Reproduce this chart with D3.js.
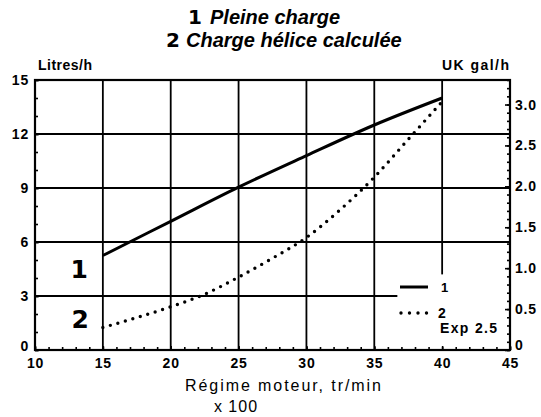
<!DOCTYPE html>
<html>
<head>
<meta charset="utf-8">
<script src="https://cdn.jsdelivr.net/npm/d3@7/dist/d3.min.js"></script>
<style>
  html, body { margin: 0; padding: 0; background: #fff; }
  svg { display: block; font-family: "Liberation Sans", Arial, Helvetica, sans-serif; }
  .tick text { font-family: "Liberation Sans", Arial, sans-serif; }
</style>
</head>
<body>
<svg id="chart" width="541" height="417"></svg>
<script>
// Engine speed (x 100 rpm) and fuel consumption (litres per hour)
const rpmFull = [15, 20, 25, 30, 35, 40];
const fullLoad = [5.25, 7.15, 9.05, 10.8, 12.5, 14.0];           // 1  Pleine charge
const rpmProp = [15, 17.5, 20, 22.5, 25, 27.5, 30, 32.5, 35, 37.5, 40];
const propLoad = [1.25, 1.8, 2.4, 3.1, 4.05, 5.1, 6.25, 7.8, 9.6, 11.7, 13.8]; // 2  hélice, exp 2.5

const xTicks = [10, 15, 20, 25, 30, 35, 40, 45];
const litreTicks = [0, 3, 6, 9, 12, 15];
const gallonTicks = [0, 0.5, 1.0, 1.5, 2.0, 2.5, 3.0];
const LITRES_PER_UK_GALLON = 4.546;

const svg = d3.select("#chart");
const ink = "#000";

const pLeft = 35, pRight = 510, pTop = 80, pBottom = 350;
const x = d3.scaleLinear().domain([10, 45]).range([pLeft, pRight]);
const y = d3.scaleLinear().domain([0, 15]).range([pBottom, pTop]);
const y2 = d3.scaleLinear().domain([0, 15 / LITRES_PER_UK_GALLON]).range([pBottom, pTop]);

// Title: heavy numeral followed by bold italic caption
const title = svg.append("g").attr("fill", ink);
function titleLine(numX, txtX, yPos, num, txt) {
  title.append("text").attr("x", numX).attr("y", yPos)
    .attr("font-family", "'DejaVu Sans', sans-serif").attr("font-size", 20).attr("font-weight", 700)
    .text(num);
  title.append("text").attr("x", txtX).attr("y", yPos)
    .attr("font-size", 20).attr("font-weight", 700).attr("font-style", "italic")
    .text(txt);
}
titleLine(188, 210, 24, "1", "Pleine charge");
titleLine(166, 186, 47, "2", "Charge hélice calculée");

// Grid
const grid = svg.append("g").attr("stroke", ink).attr("stroke-width", 1.8);
[15, 20, 25, 30, 35].forEach(v => {
  grid.append("line").attr("x1", x(v)).attr("x2", x(v)).attr("y1", y(15)).attr("y2", y(0));
});
grid.append("line").attr("x1", x(40)).attr("x2", x(40)).attr("y1", y(15)).attr("y2", y(4.2));
[6, 9, 12].forEach(v => {
  grid.append("line").attr("x1", x(10)).attr("x2", x(45)).attr("y1", y(v)).attr("y2", y(v));
});
grid.append("line").attr("x1", x(10)).attr("x2", x(36.7)).attr("y1", y(3)).attr("y2", y(3));

// Axes
function styleAxis(g, size) {
  g.select(".domain").remove();
  g.selectAll(".tick line").attr("stroke", ink).attr("stroke-width", 1.6);
  g.selectAll(".tick text").attr("fill", ink).attr("font-size", size)
    .attr("font-weight", 700).attr("letter-spacing", 0.8);
}
svg.append("g").attr("transform", `translate(${pLeft},0)`)
  .call(d3.axisLeft(y).tickValues(d3.range(0, 16)).tickSize(-3).tickFormat(""))
  .call(g => styleAxis(g, 0));
svg.append("g").attr("transform", `translate(${pLeft},0)`)
  .call(d3.axisLeft(y).tickValues(litreTicks).tickSizeInner(-4).tickSizeOuter(0).tickPadding(6).tickFormat(d3.format("d")))
  .call(g => styleAxis(g, 14))
  .call(g => g.selectAll(".tick text").filter(d => d === 0).attr("dy", "0.05em"));

svg.append("g").attr("transform", `translate(0,${pBottom})`)
  .call(d3.axisBottom(x).tickValues(d3.range(10, 46)).tickSize(-3).tickFormat(""))
  .call(g => styleAxis(g, 0));
svg.append("g").attr("transform", `translate(0,${pBottom})`)
  .call(d3.axisBottom(x).tickValues(xTicks).tickSizeInner(-4).tickSizeOuter(0).tickPadding(8).tickFormat(d3.format("d")))
  .call(g => styleAxis(g, 14));

svg.append("g").attr("transform", `translate(${pRight},0)`)
  .call(d3.axisRight(y2).tickValues(d3.range(0, 34).map(d => d / 10)).tickSize(-3).tickFormat(""))
  .call(g => styleAxis(g, 0));
svg.append("g").attr("transform", `translate(${pRight},0)`)
  .call(d3.axisRight(y2).tickValues(gallonTicks).tickSizeInner(-5).tickSizeOuter(0).tickPadding(5)
    .tickFormat(d => d === 0 ? "0" : d3.format(".1f")(d)))
  .call(g => styleAxis(g, 14))
  .call(g => g.selectAll(".tick text").filter(d => d === 0).attr("dy", "-0.05em"));

// Frame
svg.append("rect").attr("x", pLeft).attr("y", pTop).attr("width", pRight - pLeft).attr("height", pBottom - pTop)
  .attr("fill", "none").attr("stroke", ink).attr("stroke-width", 2.2);

// Axis titles
svg.append("text").attr("x", 38).attr("y", 70).attr("font-size", 14).attr("font-weight", 700)
  .attr("textLength", 54).attr("lengthAdjust", "spacing").text("Litres/h");
svg.append("text").attr("x", 442).attr("y", 70).attr("font-size", 14).attr("font-weight", 700)
  .attr("textLength", 67).attr("lengthAdjust", "spacing").text("UK gal/h");
svg.append("text").attr("x", 185).attr("y", 391).attr("font-size", 16)
  .attr("textLength", 196).attr("lengthAdjust", "spacing").text("Régime moteur, tr/min");
svg.append("text").attr("x", 236).attr("y", 412).attr("font-size", 16).attr("text-anchor", "middle")
  .attr("letter-spacing", 1).text("x 100");

// Curves
const lineFull = d3.line().x((d, i) => x(rpmFull[i])).y(d => y(d)).curve(d3.curveMonotoneX);
const lineProp = d3.line().x((d, i) => x(rpmProp[i])).y(d => y(d)).curve(d3.curveMonotoneX);

svg.append("path").attr("d", lineFull(fullLoad)).attr("fill", "none")
  .attr("stroke", ink).attr("stroke-width", 3);
svg.append("path").attr("d", lineProp(propLoad)).attr("fill", "none")
  .attr("stroke", ink).attr("stroke-width", 3.4).attr("stroke-linecap", "round")
  .attr("stroke-dasharray", "0 7.8");

// Curve numbers on the left
svg.append("text").attr("x", 88).attr("y", 278).attr("text-anchor", "end")
  .attr("font-family", "'DejaVu Sans', sans-serif")
  .attr("font-size", 25).attr("font-weight", 700).text("1");
svg.append("text").attr("x", 89).attr("y", 328).attr("text-anchor", "end")
  .attr("font-family", "'DejaVu Sans', sans-serif")
  .attr("font-size", 25).attr("font-weight", 700).text("2");

// Legend
const lg = svg.append("g");
lg.append("line").attr("x1", 400).attr("x2", 428).attr("y1", 287).attr("y2", 287)
  .attr("stroke", ink).attr("stroke-width", 3);
lg.append("line").attr("x1", 401).attr("x2", 428).attr("y1", 313).attr("y2", 313)
  .attr("stroke", ink).attr("stroke-width", 3.4).attr("stroke-linecap", "round")
  .attr("stroke-dasharray", "0 8.5");
lg.append("text").attr("x", 441).attr("y", 292).attr("font-size", 13).attr("font-weight", 700).text("1");
lg.append("text").attr("x", 438).attr("y", 318).attr("font-size", 14).attr("font-weight", 700).text("2");
lg.append("text").attr("x", 440).attr("y", 333).attr("font-size", 14).attr("font-weight", 700)
  .attr("textLength", 57).attr("lengthAdjust", "spacing").text("Exp 2.5");
</script>
</body>
</html>
